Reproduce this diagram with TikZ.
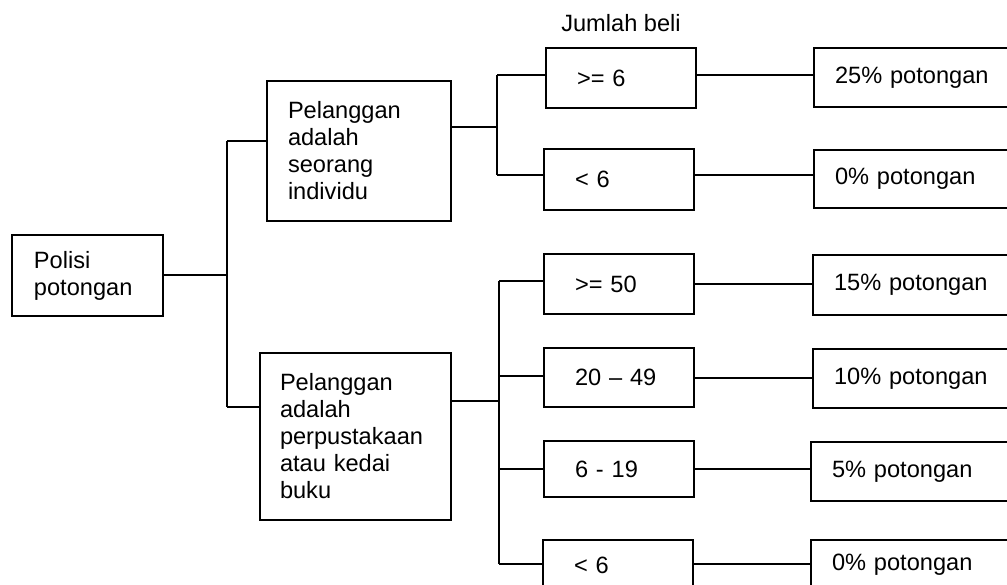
\documentclass[tikz,border=0pt]{standalone}
\usepackage{fontspec}
\setmainfont{Liberation Sans}
\usetikzlibrary{positioning}

\begin{document}
\begin{tikzpicture}[x=1pt,y=-1pt,line width=2pt,
    every node/.style={font=\fontsize{23.6}{27}\selectfont},
    kotak/.style={draw,anchor=north west,align=left,inner ysep=0pt},
    syarat/.style={kotak,inner xsep=31pt,text width=88pt,minimum height=60pt},
    hasil/.style={kotak,inner xsep=21pt,text width=163pt,minimum height=59pt}]

        \useasboundingbox (0,0) rectangle (1007,585);

        % pokok
        \node[kotak,inner xsep=22pt,text width=107pt,minimum height=81pt]  (polisi) at (11,234)  {Polisi\\potongan};
        \node[kotak,inner xsep=21pt,text width=142pt,minimum height=140pt] (indiv)  at (266,80)  {Pelanggan\\adalah\\seorang\\individu};
        \node[kotak,inner xsep=20pt,text width=151pt,minimum height=167pt] (kedai)  at (259,352) {Pelanggan\\adalah\\perpustakaan\\atau kedai\\buku};

        % jumlah beli
        \node[syarat]                    (a_1) at (545,47)  {>= 6};
        \node[syarat,minimum height=61pt] (a_2) at (543,148) {< 6};
        \node[syarat]                    (b_1) at (543,253) {>= 50};
        \node[syarat,minimum height=59pt] (b_2) at (543,347) {20 -- 49};
        \node[syarat,minimum height=56pt] (b_3) at (543,440) {6 - 19};
        \node[syarat,minimum height=50pt] (b_4) at (542,539) {< 6};
        \node[above=11pt of a_1]         (jumlah)           {Jumlah beli};

        % potongan
        \node[hasil]                     (h_1) at (813,47)  {25\% potongan};
        \node[hasil,minimum height=58pt] (h_2) at (813,149) {0\% potongan};
        \node[hasil,minimum height=60pt] (h_3) at (812,254) {15\% potongan};
        \node[hasil]                     (h_4) at (812,348) {10\% potongan};
        \node[hasil]                     (h_5) at (810,441) {5\% potongan};
        \node[hasil,minimum height=50pt] (h_6) at (810,539) {0\% potongan};

        \coordinate (c_1) at (227,141);
        \coordinate (c_2) at (227,407);
        \coordinate (d_0) at (497,127);
        \coordinate (d_1) at (497,75);
        \coordinate (d_2) at (497,175);
        \coordinate (e_0) at (499,401);
        \coordinate (e_1) at (499,281);
        \coordinate (e_2) at (499,376);
        \coordinate (e_3) at (499,469);
        \coordinate (e_4) at (499,564);

        \draw (polisi.east) -- (polisi.east -| c_1);
        \draw (c_1) -- (c_2);
        \draw (c_1) -- (c_1 -| indiv.west);
        \draw (c_2) -- (c_2 -| kedai.west);

        \draw (indiv.east |- d_0) -- (d_0);
        \draw (d_1) -- (d_2);
        \draw (d_1) -- (d_1 -| a_1.west);
        \draw (d_2) -- (d_2 -| a_2.west);
        \draw (a_1.east |- d_1) -- (d_1 -| h_1.west);
        \draw (a_2.east |- d_2) -- (d_2 -| h_2.west);

        \draw (kedai.east |- e_0) -- (e_0);
        \draw (e_1) -- (e_4);
        \foreach \i in {1,...,4}
            \draw (e_\i) -- (e_\i -| b_\i.west);
        \draw (b_1.east) -- (b_1.east -| h_3.west);
        \draw (b_2.east) -- (b_2.east -| h_4.west);
        \draw (b_3.east) -- (b_3.east -| h_5.west);
        \draw (b_4.east |- e_4) -- (e_4 -| h_6.west);
    \end{tikzpicture}
\end{document}
